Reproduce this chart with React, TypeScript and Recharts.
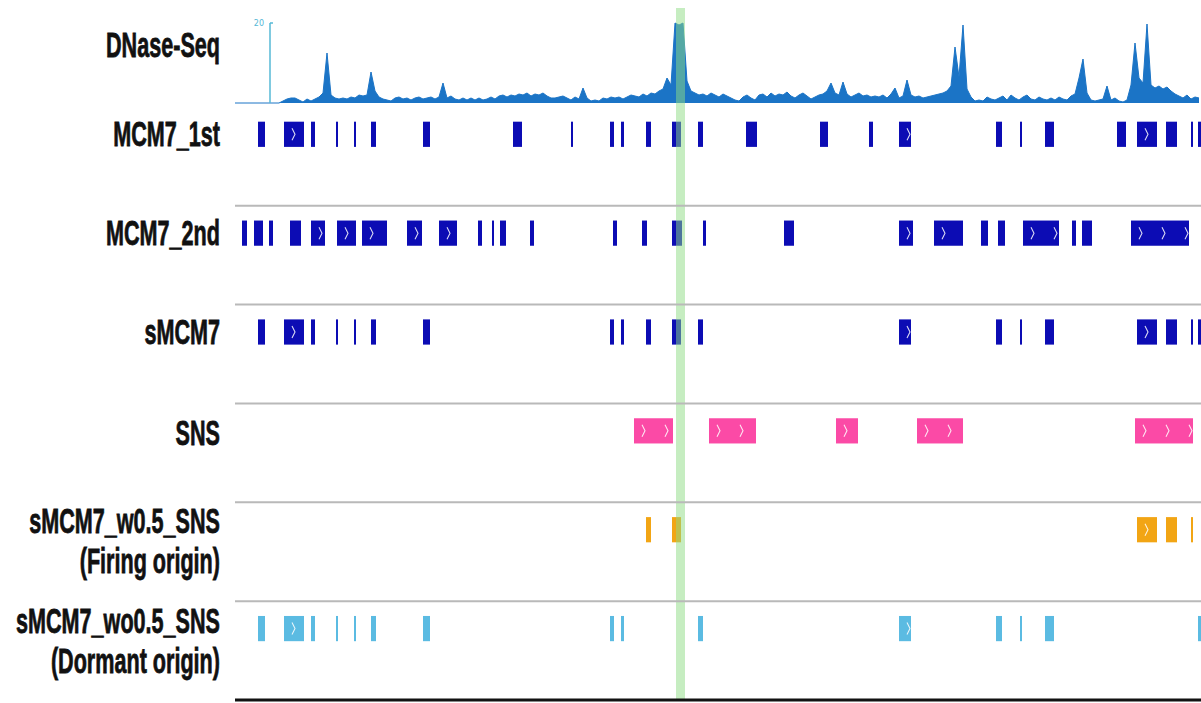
import {Area, ComposedChart, ReferenceArea, ReferenceLine, XAxis, YAxis} from 'recharts';

// genome window, in kb from the left edge of the tracks
const REGION_LENGTH = 966;
const DNASE_BIN = 4;
const HIGHLIGHT = [441, 450];
const DNASE_SCALE_MAX = 80;

// DNase-Seq read signal, one value per 4 kb bin
const DNASE_SIGNAL = [
    0, 0, 0, 0, 0, 0, 0, 0, 0, 0, 0, 0, 2, 4, 5, 5, 3, 1, 4, 2,
    4, 6, 10, 50, 8, 5, 4, 5, 4, 6, 5, 8, 7, 8, 31, 12, 6, 4, 3, 2,
    5, 6, 4, 5, 3, 5, 6, 4, 5, 6, 4, 6, 20, 5, 7, 4, 3, 5, 3, 5,
    3, 5, 3, 4, 6, 4, 7, 8, 6, 8, 7, 9, 8, 10, 7, 9, 8, 10, 7, 5,
    5, 6, 7, 5, 3, 6, 4, 15, 5, 2, 3, 2, 5, 4, 6, 5, 6, 4, 6, 8,
    7, 6, 9, 7, 10, 9, 12, 14, 25, 18, 80, 78, 80, 22, 12, 10, 8, 9, 7, 10,
    8, 6, 9, 7, 5, 3, 2, 6, 8, 5, 3, 8, 9, 6, 10, 7, 9, 8, 11, 7,
    5, 8, 10, 7, 4, 6, 8, 9, 12, 20, 10, 8, 21, 9, 6, 8, 10, 7, 8, 6,
    7, 6, 8, 5, 9, 15, 5, 7, 23, 8, 6, 7, 5, 6, 7, 8, 9, 10, 12, 17,
    56, 26, 78, 14, 6, 2, 3, 2, 6, 4, 3, 5, 7, 3, 8, 5, 3, 6, 8, 4,
    3, 6, 4, 3, 5, 3, 6, 4, 3, 7, 9, 25, 44, 10, 3, 2, 3, 4, 17, 3,
    5, 2, 1, 3, 18, 60, 25, 20, 79, 18, 15, 17, 14, 16, 12, 9, 7, 5, 8, 4,
    6, 5,
];

// peak calls: [start, end] in kb
const MCM7_1ST = [
    [23, 30], [49, 69], [76, 80], [101, 103], [119, 121], [136, 141], [188, 195],
    [278, 287], [336, 338], [375, 379], [386, 389], [411, 416], [437, 446], [463, 468],
    [511, 522], [585, 593], [634, 638], [664, 676], [761, 767], [785, 787], [810, 819],
    [882, 891], [902, 922], [931, 942], [956, 958], [963, 966],
];
const MCM7_2ND = [
    [7, 12], [19, 28], [34, 38], [55, 66], [76, 90], [102, 121], [127, 152], [172, 187],
    [204, 222], [243, 247], [257, 259], [265, 271], [295, 299], [378, 382], [407, 412],
    [437, 447], [468, 471], [549, 559], [664, 678], [699, 728], [746, 753], [763, 770],
    [788, 824], [837, 841], [847, 857], [896, 954],
];
const SMCM7 = [
    [23, 30], [49, 69], [76, 80], [101, 103], [119, 121], [136, 141], [188, 195],
    [375, 379], [386, 389], [411, 416], [437, 446], [463, 468], [664, 676], [761, 767],
    [785, 787], [810, 819], [902, 922], [931, 942], [956, 958], [963, 966],
];
const SNS = [[399, 438], [474, 521], [601, 623], [682, 728], [900, 958]];
const FIRING = [[411, 416], [437, 446], [902, 922], [931, 942], [956, 958]];
const DORMANT = [
    [23, 30], [49, 69], [76, 80], [101, 103], [119, 121], [136, 141], [188, 195],
    [375, 379], [386, 389], [463, 468], [664, 676], [761, 767], [785, 787], [810, 819],
    [963, 966],
];

const TRACKS = [
    {row: 1, color: '#0c0cb4', blocks: MCM7_1ST},
    {row: 2, color: '#0c0cb4', blocks: MCM7_2ND},
    {row: 3, color: '#0c0cb4', blocks: SMCM7},
    {row: 4, color: '#fb4aa6', blocks: SNS},
    {row: 5, color: '#f2a514', blocks: FIRING},
    {row: 6, color: '#5bbbe2', blocks: DORMANT},
];

const LABELS = [
    {at: 0.5, lines: ['DNase-Seq']},
    {at: 1.4, lines: ['MCM7_1st']},
    {at: 2.4, lines: ['MCM7_2nd']},
    {at: 3.4, lines: ['sMCM7']},
    {at: 4.42, lines: ['SNS']},
    {at: 5.31, lines: ['sMCM7_w0.5_SNS', '(Firing origin)']},
    {at: 6.32, lines: ['sMCM7_wo0.5_SNS', '(Dormant origin)']},
];

const dnaseData = DNASE_SIGNAL.map((v, i) => ({pos: i * DNASE_BIN, signal: v}));

function TrackLabel({y, payload}: any) {
    const label = LABELS.find((l) => l.at === payload.value);
    if (!label) return null;
    return (
        <g transform={`translate(220 ${y}) scale(0.6 1)`}>
            <text
                x={0}
                y={0}
                textAnchor="end"
                fontFamily="'Liberation Sans', Arial, sans-serif"
                fontWeight="bold"
                fontSize={36}
                fill="#111"
                stroke="#111"
                strokeWidth={0.8}
            >
                {label.lines.map((ln, k) => (
                    <tspan key={k} x={0} dy={k === 0 ? 0 : 40}>{ln}</tspan>
                ))}
            </text>
        </g>
    );
}

// feature block with the little strand chevrons
function Block(props: any) {
    const {x, y, width, height, fill} = props;
    const cy = y + height / 2;
    const marks = [];
    for (let c = x + 10; c < x + width - 1.5; c += 23) marks.push(c);
    return (
        <g>
            <rect x={x} y={y} width={width} height={height} fill={fill}/>
            {marks.map((c) => (
                <polyline
                    key={c}
                    points={`${c - 2},${cy - 6} ${c + 1},${cy} ${c - 2},${cy + 6}`}
                    fill="none"
                    stroke="#fff"
                    strokeOpacity={0.85}
                    strokeWidth={1.1}
                />
            ))}
        </g>
    );
}

export default function App() {
    return (
        <div style={{position: 'absolute', left: 0, top: 0, background: '#fff'}}>
            <ComposedChart
                width={1201}
                height={703}
                data={dnaseData}
                margin={{top: 8, right: 0, bottom: 3, left: 0}}
            >
                <XAxis
                    type="number"
                    dataKey="pos"
                    domain={[0, REGION_LENGTH]}
                    allowDataOverflow
                    hide
                />
                <YAxis yAxisId="dnase" type="number" domain={[-597, 95]} allowDataOverflow hide/>
                <YAxis
                    yAxisId="track"
                    type="number"
                    domain={[0, 7]}
                    allowDataOverflow
                    reversed
                    width={235}
                    ticks={LABELS.map((l) => l.at)}
                    interval={0}
                    axisLine={false}
                    tickLine={false}
                    tick={<TrackLabel/>}
                />
                <Area
                    yAxisId="dnase"
                    type="linear"
                    dataKey="signal"
                    baseValue={0}
                    stroke="#1b74c6"
                    strokeWidth={1}
                    fill="#1b74c6"
                    fillOpacity={1}
                    dot={false}
                    activeDot={false}
                    isAnimationActive={false}
                />
                <ReferenceLine
                    yAxisId="dnase"
                    segment={[{x: 35, y: 0}, {x: 35, y: DNASE_SCALE_MAX}]}
                    stroke="#56b8d6"
                    strokeWidth={1.5}
                />
                <ReferenceLine
                    yAxisId="dnase"
                    segment={[{x: 35, y: DNASE_SCALE_MAX}, {x: 38, y: DNASE_SCALE_MAX}]}
                    stroke="#56b8d6"
                    strokeWidth={1.5}
                    label={{value: '20', position: 'left', fill: '#56b8d6', fontSize: 8, fontFamily: 'DejaVu Sans', offset: 6}}
                />
                {[2, 3, 4, 5, 6].map((r) => (
                    <ReferenceLine key={r} yAxisId="track" y={r} stroke="#b9b9b9" strokeWidth={2}/>
                ))}
                <ReferenceLine yAxisId="track" y={7} stroke="#111" strokeWidth={3}/>
                {TRACKS.map((t) =>
                    t.blocks.map(([s, e]) => (
                        <ReferenceArea
                            key={`${t.row}-${s}`}
                            yAxisId="track"
                            x1={s}
                            x2={e}
                            y1={t.row + 0.15}
                            y2={t.row + 0.405}
                            fill={t.color}
                            fillOpacity={1}
                            shape={<Block/>}
                        />
                    ))
                )}
                <ReferenceArea
                    yAxisId="track"
                    x1={HIGHLIGHT[0]}
                    x2={HIGHLIGHT[1]}
                    y1={0}
                    y2={7}
                    fill="#8edb84"
                    fillOpacity={0.5}
                />
            </ComposedChart>
        </div>
    );
}
